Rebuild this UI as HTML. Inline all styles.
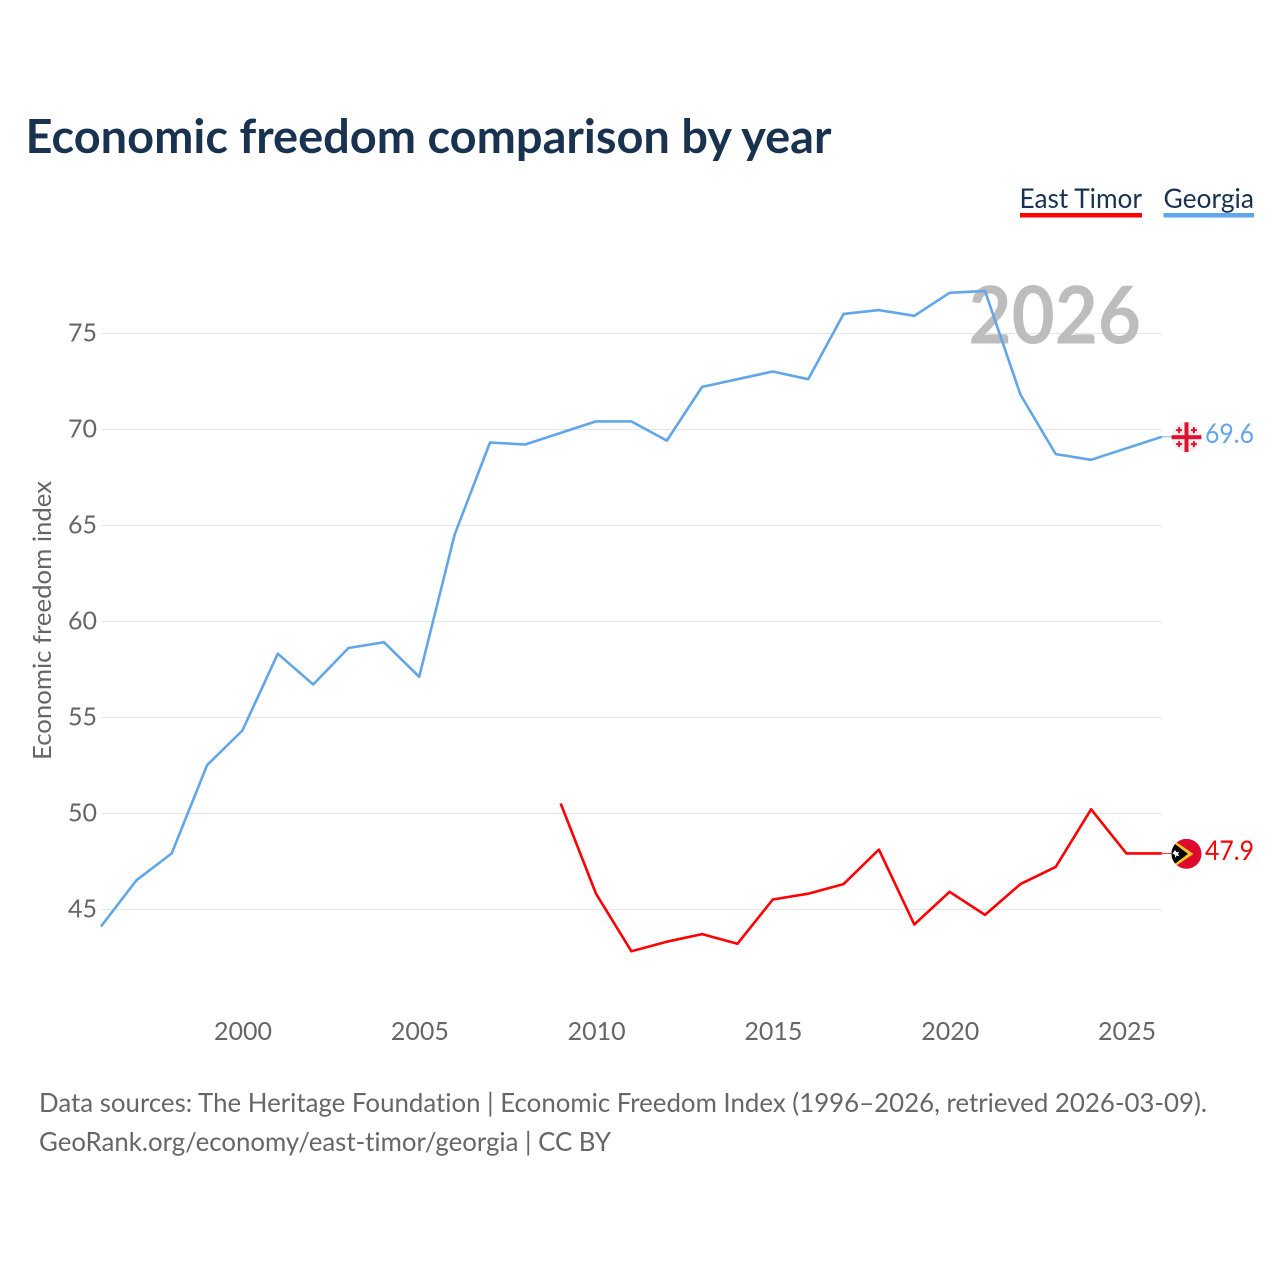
<!DOCTYPE html>
<html lang="en">
<head>
<meta charset="utf-8">
<title>Economic freedom comparison by year</title>
<style>
html,body{margin:0;padding:0;background:#fff;}
svg{display:block;}
text{font-family:"Lato","Liberation Sans",sans-serif;font-variant-ligatures:none;}
</style>
</head>
<body>
<svg id="chart" width="1280" height="1280" viewBox="0 0 1280 1280" xmlns="http://www.w3.org/2000/svg">
  <rect x="0" y="0" width="1280" height="1280" fill="#ffffff"/>
  <text x="25.5" y="153" font-size="46.5" font-weight="700" fill="#18324f" textLength="806" lengthAdjust="spacingAndGlyphs">Economic freedom comparison by year</text>

  <g id="grid"></g>
  <g id="yticks"></g>
  <g id="xticks"></g>

  <text x="968.5" y="343.5" font-size="80" font-weight="700" fill="#bdbdbd" textLength="172.5" lengthAdjust="spacingAndGlyphs">2026</text>

  <text transform="translate(51,760) rotate(-90)" x="0" y="0" font-size="25" fill="#666666" textLength="279" lengthAdjust="spacingAndGlyphs">Economic freedom index</text>

  <g id="series"></g>

  <g>
    <text x="1019.5" y="208" font-size="27" fill="#18324f" textLength="122.5" lengthAdjust="spacingAndGlyphs">East Timor</text>
    <rect x="1020" y="213" width="122" height="4.5" fill="#ff0000"/>
  </g>
  <g>
    <text x="1163.5" y="208" font-size="27" fill="#18324f" textLength="90.5" lengthAdjust="spacingAndGlyphs">Georgia</text>
    <rect x="1163.5" y="213" width="90.5" height="4.5" fill="#62a6ea"/>
  </g>

  <defs>
    <clipPath id="clip-georgia"><circle cx="15" cy="15" r="15"/></clipPath>
    <clipPath id="clip-timor"><circle cx="15" cy="15" r="15"/></clipPath>
  </defs>

  <g id="flag-georgia">
    <g clip-path="url(#clip-georgia)">
      <rect x="0" y="0" width="30" height="30" fill="#efefef"/>
      <rect x="13" y="0" width="4" height="30" fill="#e0102f"/>
      <rect x="0" y="13" width="30" height="4" fill="#e0102f"/>
      <path d="M6.6 5h2v2h2v2h-2v2h-2V9h-2V7h2z M21.4 5h2v2h2v2h-2v2h-2V9h-2V7h2z M6.6 19h2v2h2v2h-2v2h-2v-2h-2v-2h2z M21.4 19h2v2h2v2h-2v2h-2v-2h-2v-2h2z" fill="#e0102f"/>
    </g>
  </g>
  <g id="flag-timor">
    <g clip-path="url(#clip-timor)">
      <rect x="0" y="0" width="30" height="30" fill="#dc0a2d"/>
      <path d="M0 0L22 15L0 30Z" fill="#ffc726"/>
      <path d="M0 2.5L16.5 15L0 27.5Z" fill="#000000"/>
      <path d="M3.5 11.2l1.7 2.4 2.9-.8-1.7 2.3 1.7 2.5-2.9-.9-1.7 2.4v-3l-2.6-1z" fill="#ffffff"/>
    </g>
  </g>

  <text id="value-georgia" x="1205" y="443" font-size="27" fill="#62a6ea" textLength="49" lengthAdjust="spacingAndGlyphs"></text>
  <text id="value-timor" x="1205" y="860" font-size="27" fill="#ff0000" textLength="49" lengthAdjust="spacingAndGlyphs"></text>

  <text x="39" y="1112" font-size="26" fill="#666666" textLength="1168" lengthAdjust="spacingAndGlyphs">Data sources: The Heritage Foundation | Economic Freedom Index (1996–2026, retrieved 2026-03-09).</text>
  <text x="39" y="1151" font-size="26" fill="#666666" textLength="572" lengthAdjust="spacingAndGlyphs">GeoRank.org/economy/east-timor/georgia | CC BY</text>
</svg>
<script>
const georgiaYears = [1996,1997,1998,1999,2000,2001,2002,2003,2004,2005,2006,2007,2008,2009,2010,2011,2012,2013,2014,2015,2016,2017,2018,2019,2020,2021,2022,2023,2024,2025,2026];
const georgiaValues = [44.1,46.5,47.9,52.5,54.3,58.3,56.7,58.6,58.9,57.1,64.5,69.3,69.2,69.8,70.4,70.4,69.4,72.2,72.6,73.0,72.6,76.0,76.2,75.9,77.1,77.2,71.8,68.7,68.4,69.0,69.6];
const timorYears = [2009,2010,2011,2012,2013,2014,2015,2016,2017,2018,2019,2020,2021,2022,2023,2024,2025,2026];
const timorValues = [50.5,45.8,42.8,43.3,43.7,43.2,45.5,45.8,46.3,48.1,44.2,45.9,44.7,46.3,47.2,50.2,47.9,47.9];
const yTickValues = [45,50,55,60,65,70,75];
const xTickValues = [2000,2005,2010,2015,2020,2025];

const NS = 'http://www.w3.org/2000/svg';
function xScale(year){ return 101 + (year - 1996) * 35.36; }
function yScale(value){ return 909.5 - (value - 45) * 19.2; }
function make(tag, attrs, parent){
  const el = document.createElementNS(NS, tag);
  Object.keys(attrs).forEach(function(k){ el.setAttribute(k, attrs[k]); });
  parent.appendChild(el);
  return el;
}
const grid = document.getElementById('grid');
const yticks = document.getElementById('yticks');
const xticks = document.getElementById('xticks');
const series = document.getElementById('series');

yTickValues.forEach(function(v){
  const line = make('line', {x1:101.6, x2:1162, y1:yScale(v), y2:yScale(v), stroke:'#e6e6e6', 'stroke-width':1.2}, grid);
  
  
  const label = make('text', {x:97, y:yScale(v) + 8, 'text-anchor':'end', 'font-size':25, fill:'#666666'}, yticks);
  
  
  label.textContent = v;
});

xTickValues.forEach(function(y){
  const label = make('text', {x:xScale(y) + 0.6, y:1040, 'text-anchor':'middle', 'font-size':25, fill:'#666666'}, xticks);
  
  
  label.textContent = y;
});

function points(years, values){
  return years.map(function(y, i){ return xScale(y).toFixed(1) + ',' + (yScale(values[i]) - 0.4).toFixed(1); }).join(' ');
}
const timorLine = make('polyline', {points:points(timorYears, timorValues), fill:'none', stroke:'#ff0000', 'stroke-width':2.6, 'stroke-linejoin':'round'}, series);


const georgiaLine = make('polyline', {points:points(georgiaYears, georgiaValues), fill:'none', stroke:'#62a6ea', 'stroke-width':2.6, 'stroke-linejoin':'round'}, series);



const gLast = georgiaValues[georgiaValues.length - 1];
const tLast = timorValues[timorValues.length - 1];
const connG = make('line', {x1:1162, x2:1172, y1:yScale(gLast) - 0.4, y2:yScale(gLast) - 0.4, stroke:'#62a6ea', 'stroke-width':1, opacity:0.8}, series);


const connT = make('line', {x1:1162, x2:1172, y1:yScale(tLast) - 0.4, y2:yScale(tLast) - 0.4, stroke:'#ff0000', 'stroke-width':1, opacity:0.8}, series);



document.getElementById('flag-georgia').setAttribute('transform', 'translate(1171.5,' + (yScale(gLast) - 15) + ')');
document.getElementById('flag-timor').setAttribute('transform', 'translate(1171.5,' + (yScale(tLast) - 15) + ')');
const vg = document.getElementById('value-georgia');
vg.textContent = gLast.toFixed(1);
vg.setAttribute('y', yScale(gLast) + 6);
const vt = document.getElementById('value-timor');
vt.textContent = tLast.toFixed(1);
vt.setAttribute('y', yScale(tLast) + 6);
</script>
</body>
</html>
